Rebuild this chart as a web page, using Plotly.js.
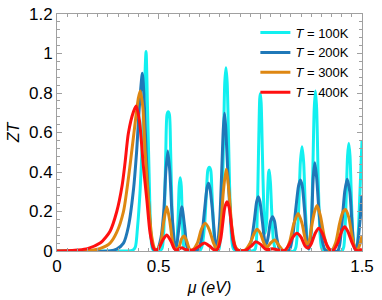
<!DOCTYPE html>
<html>
<head>
<meta charset="utf-8">
<script src="https://cdn.plot.ly/plotly-3.0.1.min.js"></script>
<style>html,body{margin:0;padding:0;background:#fff;}#chart{width:382px;height:300px;}</style>
</head>
<body>
<div id="chart"></div>
<script>
// Series names
var seriesNames = ["<i>T</i> = 100K", "<i>T</i> = 200K", "<i>T</i> = 300K", "<i>T</i> = 400K"];
var seriesColors = ["#12F0F0", "#1F78B8", "#DE8712", "#FF1010"];

// T = 100K (mu, ZT)
var mu100 = [0,0.30,0.37,0.385,0.396,0.409,0.42,0.43,0.438,0.445,0.453,0.461,0.47,0.49,0.515,0.528,0.535,0.541,0.547,0.553,0.559,0.566,0.575,0.582,0.588,0.595,0.601,0.606,0.611,0.617,0.627,0.65,0.70,0.712,0.725,0.735,0.742,0.749,0.756,0.762,0.770,0.78,0.79,0.797,0.81,0.818,0.825,0.831,0.837,0.845,0.853,0.868,0.90,0.96,0.975,0.985,0.992,0.997,1.0,1.004,1.01,1.017,1.024,1.031,1.037,1.041,1.044,1.05,1.056,1.065,1.077,1.12,1.165,1.175,1.188,1.197,1.205,1.213,1.222,1.232,1.24,1.248,1.257,1.265,1.271,1.277,1.285,1.294,1.305,1.34,1.40,1.41,1.42,1.429,1.435,1.441,1.45,1.46,1.473,1.482,1.49,1.5];
var zt100 = [0,0,0.003,0.02,0.12,0.31,0.56,0.82,1.01,0.73,0.39,0.10,0.01,0,0.01,0.2,0.5,0.69,0.705,0.69,0.5,0.2,0.03,0.005,0.03,0.15,0.33,0.371,0.33,0.15,0.01,0,0,0.02,0.12,0.3,0.41,0.424,0.41,0.3,0.12,0.01,0,0.01,0.2,0.5,0.85,0.928,0.85,0.5,0.2,0.01,0,0,0.01,0.2,0.55,0.77,0.798,0.75,0.5,0.22,0.09,0.15,0.33,0.40,0.41,0.34,0.2,0.05,0.005,0,0,0.02,0.2,0.45,0.528,0.45,0.2,0.04,0.01,0.06,0.35,0.72,0.81,0.72,0.35,0.08,0.005,0,0,0.02,0.2,0.48,0.545,0.48,0.2,0.03,0.005,0.1,0.3,0.56];

// T = 200K
var mu200 = [0,0.26,0.294,0.327,0.351,0.376,0.392,0.405,0.42,0.43,0.438,0.45,0.461,0.474,0.49,0.51,0.525,0.535,0.545,0.555,0.565,0.578,0.586,0.60,0.614,0.628,0.64,0.655,0.695,0.71,0.725,0.738,0.745,0.752,0.765,0.778,0.787,0.80,0.81,0.818,0.824,0.83,0.84,0.855,0.872,0.89,0.935,0.955,0.97,0.982,0.99,0.998,1.01,1.022,1.03,1.04,1.05,1.06,1.07,1.082,1.095,1.13,1.145,1.16,1.175,1.188,1.197,1.206,1.218,1.228,1.237,1.244,1.252,1.26,1.268,1.277,1.29,1.305,1.32,1.38,1.39,1.40,1.415,1.427,1.44,1.452,1.462,1.47,1.48,1.49,1.5];
var zt200 = [0,0,0.01,0.04,0.123,0.31,0.51,0.73,0.90,0.73,0.51,0.258,0.09,0.01,0,0.06,0.2,0.4,0.506,0.4,0.2,0.04,0.015,0.12,0.224,0.12,0.02,0,0.01,0.06,0.2,0.32,0.343,0.32,0.2,0.05,0.015,0.15,0.4,0.62,0.697,0.62,0.4,0.15,0.02,0,0.005,0.05,0.15,0.25,0.275,0.25,0.15,0.05,0.035,0.08,0.15,0.174,0.15,0.06,0.01,0,0.01,0.08,0.22,0.33,0.36,0.33,0.2,0.06,0.01,0.04,0.15,0.37,0.447,0.37,0.18,0.05,0.005,0,0.03,0.12,0.3,0.363,0.3,0.12,0.02,0.005,0.05,0.15,0.28];

// T = 300K
var mu300 = [0,0.15,0.21,0.261,0.294,0.327,0.345,0.36,0.384,0.40,0.409,0.422,0.433,0.45,0.466,0.483,0.49,0.51,0.525,0.54,0.555,0.57,0.585,0.60,0.612,0.625,0.638,0.652,0.665,0.69,0.71,0.729,0.748,0.77,0.787,0.805,0.818,0.832,0.846,0.86,0.878,0.895,0.925,0.95,0.97,0.984,1.0,1.02,1.035,1.05,1.07,1.09,1.11,1.125,1.145,1.165,1.186,1.205,1.228,1.24,1.255,1.267,1.279,1.295,1.315,1.335,1.35,1.37,1.39,1.405,1.419,1.435,1.452,1.468,1.48,1.49,1.5];
var zt300 = [0,0.002,0.012,0.04,0.095,0.2,0.32,0.44,0.646,0.773,0.81,0.73,0.51,0.258,0.072,0.005,0.003,0.04,0.15,0.224,0.15,0.04,0.008,0.02,0.06,0.076,0.05,0.01,0.005,0.04,0.11,0.14,0.11,0.04,0.008,0.12,0.3,0.414,0.3,0.12,0.02,0.003,0.005,0.04,0.09,0.11,0.09,0.035,0.02,0.04,0.056,0.03,0.005,0.005,0.05,0.14,0.19,0.14,0.035,0.05,0.14,0.2,0.23,0.18,0.07,0.01,0.003,0.04,0.14,0.195,0.21,0.17,0.07,0.01,0.01,0.035,0.075];

// T = 400K
var mu400 = [0,0.05,0.10,0.15,0.212,0.24,0.261,0.294,0.32,0.335,0.351,0.376,0.389,0.405,0.425,0.442,0.458,0.475,0.485,0.50,0.52,0.54,0.56,0.578,0.59,0.605,0.615,0.63,0.65,0.67,0.70,0.725,0.75,0.775,0.79,0.805,0.815,0.825,0.836,0.847,0.857,0.868,0.885,0.925,0.955,0.978,1.0,1.025,1.045,1.06,1.08,1.10,1.12,1.14,1.16,1.18,1.20,1.22,1.235,1.25,1.27,1.287,1.305,1.325,1.345,1.36,1.38,1.40,1.415,1.43,1.452,1.47,1.485,1.5];
var zt400 = [0,0.001,0.005,0.012,0.04,0.07,0.1,0.2,0.33,0.45,0.596,0.705,0.734,0.663,0.427,0.258,0.09,0.015,0.005,0.012,0.055,0.081,0.05,0.01,0.005,0.013,0.016,0.008,0.003,0.005,0.025,0.04,0.025,0.005,0.01,0.06,0.14,0.22,0.25,0.22,0.14,0.05,0.005,0.003,0.025,0.047,0.035,0.01,0.008,0.012,0.007,0.002,0.003,0.03,0.07,0.09,0.07,0.025,0.015,0.035,0.09,0.115,0.09,0.035,0.005,0.005,0.04,0.1,0.123,0.1,0.04,0.005,0.002,0.01];

var xTickVals = [0, 0.5, 1, 1.5];
var xTickText = ["0", "0.5", "1", "1.5"];
var yTickVals = [0, 0.2, 0.4, 0.6, 0.8, 1, 1.2];
var yTickText = ["0", "0.2", "0.4", "0.6", "0.8", "1", "1.2"];

var xs = [mu100, mu200, mu300, mu400];
var ys = [zt100, zt200, zt300, zt400];
var traces = [];
for (var i = 0; i < 4; i++) {
  traces.push({
    x: xs[i], y: ys[i], type: 'scatter', mode: 'lines',
    name: seriesNames[i],
    line: {color: seriesColors[i], width: 3, shape: 'spline', smoothing: 0.7},
    hoverinfo: 'skip'
  });
}

var FONT = 'Liberation Sans, Arial, sans-serif';
var axisCommon = {
  showline: true, linecolor: '#a0a0a0', linewidth: 1, mirror: 'ticks',
  ticks: 'inside', ticklen: 5, tickcolor: '#a0a0a0', tickwidth: 1,
  showgrid: false, zeroline: false,
  tickfont: {family: FONT, size: 17, color: '#000'}
};

var layout = {
  width: 382, height: 300,
  margin: {l: 57, r: 20, t: 14, b: 49},
  paper_bgcolor: '#fff', plot_bgcolor: '#fff',
  showlegend: true,
  legend: {
    x: 0.975, y: 0.985, xanchor: 'right', yanchor: 'top',
    bgcolor: 'rgba(0,0,0,0)', borderwidth: 0,
    font: {family: FONT, size: 13, color: '#000'},
    tracegroupgap: 0, itemwidth: 30
  },
  xaxis: Object.assign({}, axisCommon, {
    range: [0, 1.5], tickvals: xTickVals, ticktext: xTickText,
    minor: {dtick: 0.05, ticks: 'inside', ticklen: 3, tickcolor: '#a0a0a0', showgrid: false},
    title: {text: '<i>μ (eV)</i>', standoff: 6, font: {family: FONT, size: 16, color: '#000'}}
  }),
  yaxis: Object.assign({}, axisCommon, {
    range: [0, 1.2], tickvals: yTickVals, ticktext: yTickText,
    minor: {dtick: 0.04, ticks: 'inside', ticklen: 3, tickcolor: '#a0a0a0', showgrid: false},
    title: {text: '<i>ZT</i>', standoff: 5, font: {family: FONT, size: 16, color: '#000'}}
  })
};

Plotly.newPlot('chart', traces, layout, {staticPlot: true, displayModeBar: false});
</script>
</body>
</html>
